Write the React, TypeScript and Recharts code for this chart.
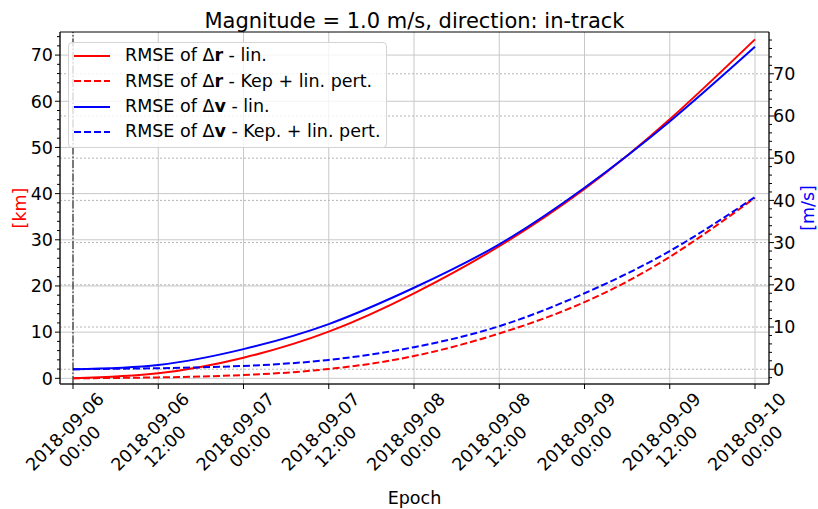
import React from 'react';
import { LineChart, Line, XAxis, YAxis, CartesianGrid, ReferenceLine, Legend } from 'recharts';

// hours since 2018-09-06 00:00
const hours = [0, 12, 24, 36, 48, 60, 72, 84, 96];
const tickDates = ['2018-09-06', '2018-09-06', '2018-09-07', '2018-09-07', '2018-09-08', '2018-09-08', '2018-09-09', '2018-09-09', '2018-09-10'];
const tickTimes = ['00:00', '12:00', '00:00', '12:00', '00:00', '12:00', '00:00', '12:00', '00:00'];

// [km]
const posLin = [0, 1.08, 4.46, 10.1, 18.4, 28.6, 41.0, 56.1, 73.4];
const posKep = [0, 0.2, 0.71, 2.02, 4.83, 9.7, 16.5, 26.3, 39.1];
// [m/s]
const velLin = [0, 1.0, 4.76, 10.7, 19.3, 29.6, 43.0, 58.7, 76.4];
const velKep = [0, 0.24, 0.78, 2.2, 5.23, 10.2, 18.0, 28.0, 40.8];

const kmMajor = [0, 10, 20, 30, 40, 50, 60, 70];
const kmTicks = Array.from({ length: 38 }, (_, i) => i * 2);
const msMajor = [0, 10, 20, 30, 40, 50, 60, 70];
const msTicks = Array.from({ length: 41 }, (_, i) => -2 + i * 2);

const FONT = 'DejaVu Sans';
const FS = 17.5;

const data = hours.map((h, i) => ({
  h,
  posLin: posLin[i],
  posKep: posKep[i],
  velLin: velLin[i],
  velKep: velKep[i],
}));

const legendItems = [
  { color: '#ff0000', dash: undefined, pre: 'RMSE of Δ', bold: 'r', post: ' - lin.' },
  { color: '#ff0000', dash: '7 3', pre: 'RMSE of Δ', bold: 'r', post: ' - Kep + lin. pert.' },
  { color: '#0000ff', dash: undefined, pre: 'RMSE of Δ', bold: 'v', post: ' - lin.' },
  { color: '#0000ff', dash: '7 3', pre: 'RMSE of Δ', bold: 'v', post: ' - Kep. + lin. pert.' },
];

const LegendBox = () => (
  <div
    style={{
      boxSizing: 'border-box',
      width: 319,
      height: 106,
      border: '1px solid #d4d4d4',
      borderRadius: 4,
      background: 'rgba(255,255,255,0.8)',
      fontFamily: FONT,
      fontSize: FS,
      paddingTop: 0.3,
    }}
  >
    {legendItems.map((it, i) => (
      <div key={i} style={{ display: 'flex', alignItems: 'center', height: 25.4, lineHeight: '25.4px' }}>
        <svg width={36} height={10} style={{ marginLeft: 5, marginRight: 15, flex: 'none' }}>
          <line x1={0} y1={5} x2={36} y2={5} stroke={it.color} strokeWidth={2} strokeDasharray={it.dash} />
        </svg>
        <span style={{ whiteSpace: 'pre', color: '#000' }}>
          {it.pre}
          <b>{it.bold}</b>
          {it.post}
        </span>
      </div>
    ))}
  </div>
);

const LeftTick = (props: any) => {
  const { x, y, payload } = props;
  const major = kmMajor.includes(payload.value);
  return (
    <g>
      <line x1={x} y1={y} x2={x - (major ? 5 : 3)} y2={y} stroke="#000" strokeWidth={1} />
      {major && (
        <text x={x - 7} y={y} dy={6.3} textAnchor="end" fontSize={FS} fontFamily={FONT} fill="#000">
          {payload.value}
        </text>
      )}
    </g>
  );
};

const RightTick = (props: any) => {
  const { x, y, payload } = props;
  const major = msMajor.includes(payload.value);
  return (
    <g>
      <line x1={x} y1={y} x2={x + (major ? 5 : 3)} y2={y} stroke="#000" strokeWidth={1} />
      {major && (
        <text x={x + 4} y={y} dy={6.3} textAnchor="start" fontSize={FS} fontFamily={FONT} fill="#000">
          {payload.value}
        </text>
      )}
    </g>
  );
};

const DateTick = (props: any) => {
  const { x, y, payload } = props;
  const i = hours.indexOf(payload.value);
  return (
    <g>
      <line x1={x} y1={y} x2={x} y2={y + 5} stroke="#000" strokeWidth={1} />
      <g transform={`translate(${x - 1},${y + 55}) rotate(-45)`}>
        <text textAnchor="middle" fontSize={FS} fontFamily={FONT} fill="#000">
          <tspan x={0} y={-4}>{tickDates[i]}</tspan>
          <tspan x={0} y={17}>{tickTimes[i]}</tspan>
        </text>
      </g>
    </g>
  );
};

export default function App() {
  return (
    <div style={{ position: 'absolute', left: 0, top: 0, background: '#fff' }}>
      <LineChart
        width={818}
        height={509}
        data={data}
        margin={{ top: 0, right: 0, bottom: 0, left: 0 }}
        style={{ fontFamily: FONT }}
      >
        <CartesianGrid
          yAxisId="km"
          horizontalValues={kmMajor}
          stroke="#c8c8c8"
          strokeWidth={1}
        />
        <CartesianGrid
          yAxisId="ms"
          vertical={false}
          horizontalValues={msMajor}
          stroke="#b4b4b4"
          strokeDasharray="2 2"
          strokeWidth={1}
        />
        <XAxis
          dataKey="h"
          type="number"
          domain={[-1.83, 97.97]}
          allowDataOverflow
          ticks={hours}
          interval={0}
          height={125}
          tickSize={0}
          tickMargin={0}
          tick={<DateTick />}
          axisLine={{ stroke: '#222', strokeWidth: 1.5 }}
          label={{ value: 'Epoch', position: 'insideBottom', offset: 5, fontSize: FS, fill: '#000' }}
        />
        <XAxis
          xAxisId="top"
          dataKey="h"
          type="number"
          orientation="top"
          domain={[-1.83, 97.97]}
          height={32}
          tick={false}
          tickLine={false}
          axisLine={{ stroke: '#000', strokeWidth: 1 }}
          label={{ value: 'Magnitude = 1.0 m/s, direction: in-track', position: 'insideBottom', offset: 4, fontSize: 21, fill: '#000' }}
        />
        <YAxis
          yAxisId="km"
          type="number"
          domain={[-1.23, 75]}
          allowDataOverflow
          ticks={kmTicks}
          interval={0}
          width={60}
          tickSize={0}
          tickMargin={0}
          tick={<LeftTick />}
          axisLine={{ stroke: '#222', strokeWidth: 1.5 }}
          label={{
            value: '[km]',
            position: 'insideLeft',
            offset: 20,
            angle: -90,
            fontSize: FS,
            fill: '#ff0000',
            style: { textAnchor: 'middle' },
          }}
        />
        <YAxis
          yAxisId="ms"
          orientation="right"
          type="number"
          domain={[-3.5, 79.9]}
          allowDataOverflow
          ticks={msTicks}
          interval={0}
          width={49}
          tickSize={0}
          tickMargin={0}
          tick={<RightTick />}
          axisLine={{ stroke: '#000', strokeWidth: 1.2 }}
          label={{
            value: '[m/s]',
            position: 'insideRight',
            offset: 10,
            angle: -90,
            fontSize: FS,
            fill: '#0000ff',
            style: { textAnchor: 'middle' },
          }}
        />
        <ReferenceLine yAxisId="km" x={0} stroke="#333" strokeWidth={1.2} strokeDasharray="8 2 1.5 2" />
        <Line yAxisId="km" type="natural" dataKey="posLin" stroke="#ff0000" strokeWidth={2} dot={false} isAnimationActive={false} />
        <Line yAxisId="km" type="natural" dataKey="posKep" stroke="#ff0000" strokeWidth={2} strokeDasharray="7 3" dot={false} isAnimationActive={false} />
        <Line yAxisId="ms" type="natural" dataKey="velLin" stroke="#0000ff" strokeWidth={2} dot={false} isAnimationActive={false} />
        <Line yAxisId="ms" type="natural" dataKey="velKep" stroke="#0000ff" strokeWidth={2} strokeDasharray="7 3" dot={false} isAnimationActive={false} />
        <Legend
          layout="vertical"
          align="center"
          verticalAlign="middle"
          content={<LegendBox />}
          wrapperStyle={{ left: 68, top: 42, width: 'auto' }}
        />
      </LineChart>
    </div>
  );
}
